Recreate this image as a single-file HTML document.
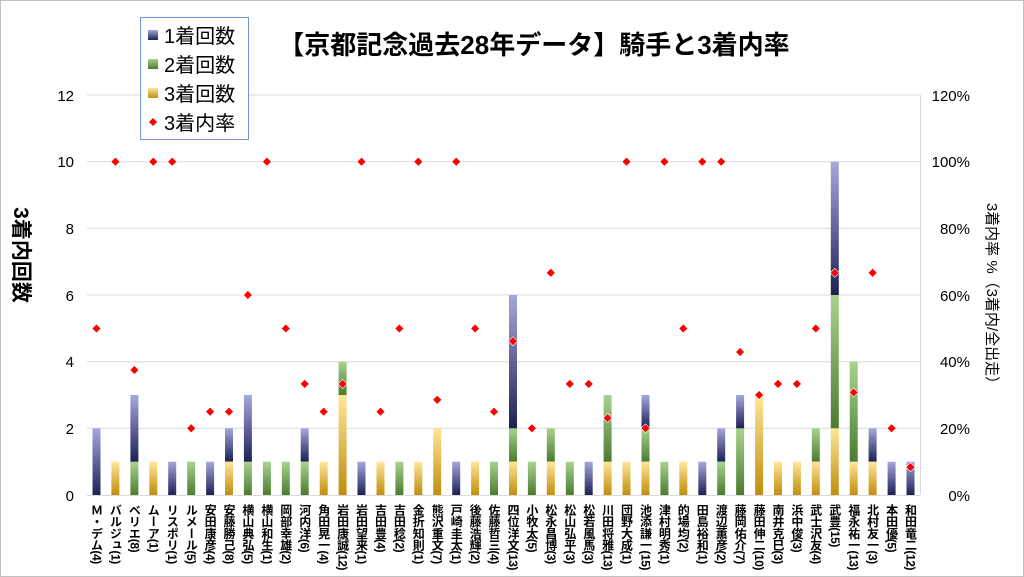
<!DOCTYPE html>
<html><head><meta charset="utf-8"><style>
body{margin:0;background:#fff}
#c{position:relative;width:1024px;height:577px;overflow:hidden;font-family:"Liberation Sans","Noto Sans CJK JP",sans-serif;}
.xl{position:absolute;top:504px;width:14px;writing-mode:vertical-rl;font-size:12px;font-weight:bold;line-height:14px;color:#000;white-space:nowrap;letter-spacing:-0.4px}
</style></head><body><div id="c">
<svg width="1024" height="577" style="position:absolute;left:0;top:0">
<defs>
<linearGradient id="gb" x1="0" y1="0" x2="0" y2="1"><stop offset="0" stop-color="#a4a8da"/><stop offset="1" stop-color="#1c2154"/></linearGradient>
<linearGradient id="gg" x1="0" y1="0" x2="0" y2="1"><stop offset="0" stop-color="#a9d28f"/><stop offset="1" stop-color="#4b7b2f"/></linearGradient>
<linearGradient id="gy" x1="0" y1="0" x2="0" y2="1"><stop offset="0" stop-color="#ffe699"/><stop offset="1" stop-color="#bf8e0c"/></linearGradient>
</defs>
<rect x="0.5" y="0.5" width="1023" height="576" fill="#fff" stroke="#bfbfbf"/>
<g stroke="#d9d9d9" stroke-width="1">
<line x1="87" y1="95" x2="920" y2="95"/><line x1="87" y1="161.7" x2="920" y2="161.7"/><line x1="87" y1="228.3" x2="920" y2="228.3"/><line x1="87" y1="295" x2="920" y2="295"/><line x1="87" y1="361.7" x2="920" y2="361.7"/><line x1="87" y1="428.3" x2="920" y2="428.3"/><line x1="87" y1="495.5" x2="920" y2="495.5"/>
<line x1="920.5" y1="95" x2="920.5" y2="495"/>
</g>
<g font-size="15" fill="#000" text-anchor="end">
<text x="74" y="101">12</text><text x="74" y="167">10</text><text x="74" y="234">8</text><text x="74" y="301">6</text><text x="74" y="367">4</text><text x="74" y="434">2</text><text x="74" y="501">0</text>
</g>
<g font-size="15" fill="#000" text-anchor="end">
<text x="970" y="101">120%</text><text x="970" y="167">100%</text><text x="970" y="234">80%</text><text x="970" y="301">60%</text><text x="970" y="367">40%</text><text x="970" y="434">20%</text><text x="970" y="501">0%</text>
</g>
<text x="534" y="54" font-size="26" font-weight="bold" text-anchor="middle" fill="#000">【京都記念過去28年データ】騎手と3着内率</text>
<text transform="translate(14,255) rotate(90)" font-size="21" font-weight="bold" text-anchor="middle" fill="#000">3着内回数</text>
<text transform="translate(987,297) rotate(90)" font-size="15" text-anchor="middle" fill="#000">3着内率 %（3着内/全出走）</text>
<g>
<rect x="92.5" y="428.3" width="8" height="66.7" fill="url(#gb)"/>
<rect x="111.4" y="461.7" width="8" height="33.3" fill="url(#gy)"/>
<rect x="130.4" y="461.7" width="8" height="33.3" fill="url(#gg)"/><rect x="130.4" y="395" width="8" height="66.7" fill="url(#gb)"/>
<rect x="149.3" y="461.7" width="8" height="33.3" fill="url(#gy)"/>
<rect x="168.2" y="461.7" width="8" height="33.3" fill="url(#gb)"/>
<rect x="187.2" y="461.7" width="8" height="33.3" fill="url(#gg)"/>
<rect x="206.1" y="461.7" width="8" height="33.3" fill="url(#gb)"/>
<rect x="225" y="461.7" width="8" height="33.3" fill="url(#gy)"/><rect x="225" y="428.3" width="8" height="33.3" fill="url(#gb)"/>
<rect x="243.9" y="461.7" width="8" height="33.3" fill="url(#gg)"/><rect x="243.9" y="395" width="8" height="66.7" fill="url(#gb)"/>
<rect x="262.9" y="461.7" width="8" height="33.3" fill="url(#gg)"/>
<rect x="281.8" y="461.7" width="8" height="33.3" fill="url(#gg)"/>
<rect x="300.7" y="461.7" width="8" height="33.3" fill="url(#gg)"/><rect x="300.7" y="428.3" width="8" height="33.3" fill="url(#gb)"/>
<rect x="319.7" y="461.7" width="8" height="33.3" fill="url(#gy)"/>
<rect x="338.6" y="395" width="8" height="100" fill="url(#gy)"/><rect x="338.6" y="361.7" width="8" height="33.3" fill="url(#gg)"/>
<rect x="357.5" y="461.7" width="8" height="33.3" fill="url(#gb)"/>
<rect x="376.5" y="461.7" width="8" height="33.3" fill="url(#gy)"/>
<rect x="395.4" y="461.7" width="8" height="33.3" fill="url(#gg)"/>
<rect x="414.3" y="461.7" width="8" height="33.3" fill="url(#gy)"/>
<rect x="433.2" y="428.3" width="8" height="66.7" fill="url(#gy)"/>
<rect x="452.2" y="461.7" width="8" height="33.3" fill="url(#gb)"/>
<rect x="471.1" y="461.7" width="8" height="33.3" fill="url(#gy)"/>
<rect x="490" y="461.7" width="8" height="33.3" fill="url(#gg)"/>
<rect x="509" y="461.7" width="8" height="33.3" fill="url(#gy)"/><rect x="509" y="428.3" width="8" height="33.3" fill="url(#gg)"/><rect x="509" y="295" width="8" height="133.3" fill="url(#gb)"/>
<rect x="527.9" y="461.7" width="8" height="33.3" fill="url(#gg)"/>
<rect x="546.8" y="461.7" width="8" height="33.3" fill="url(#gy)"/><rect x="546.8" y="428.3" width="8" height="33.3" fill="url(#gg)"/>
<rect x="565.8" y="461.7" width="8" height="33.3" fill="url(#gg)"/>
<rect x="584.7" y="461.7" width="8" height="33.3" fill="url(#gb)"/>
<rect x="603.6" y="461.7" width="8" height="33.3" fill="url(#gy)"/><rect x="603.6" y="395" width="8" height="66.7" fill="url(#gg)"/>
<rect x="622.5" y="461.7" width="8" height="33.3" fill="url(#gy)"/>
<rect x="641.5" y="461.7" width="8" height="33.3" fill="url(#gy)"/><rect x="641.5" y="428.3" width="8" height="33.3" fill="url(#gg)"/><rect x="641.5" y="395" width="8" height="33.3" fill="url(#gb)"/>
<rect x="660.4" y="461.7" width="8" height="33.3" fill="url(#gg)"/>
<rect x="679.3" y="461.7" width="8" height="33.3" fill="url(#gy)"/>
<rect x="698.3" y="461.7" width="8" height="33.3" fill="url(#gb)"/>
<rect x="717.2" y="461.7" width="8" height="33.3" fill="url(#gg)"/><rect x="717.2" y="428.3" width="8" height="33.3" fill="url(#gb)"/>
<rect x="736.1" y="428.3" width="8" height="66.7" fill="url(#gg)"/><rect x="736.1" y="395" width="8" height="33.3" fill="url(#gb)"/>
<rect x="755.1" y="395" width="8" height="100" fill="url(#gy)"/>
<rect x="774" y="461.7" width="8" height="33.3" fill="url(#gy)"/>
<rect x="792.9" y="461.7" width="8" height="33.3" fill="url(#gy)"/>
<rect x="811.8" y="461.7" width="8" height="33.3" fill="url(#gy)"/><rect x="811.8" y="428.3" width="8" height="33.3" fill="url(#gg)"/>
<rect x="830.8" y="428.3" width="8" height="66.7" fill="url(#gy)"/><rect x="830.8" y="295" width="8" height="133.3" fill="url(#gg)"/><rect x="830.8" y="161.7" width="8" height="133.3" fill="url(#gb)"/>
<rect x="849.7" y="461.7" width="8" height="33.3" fill="url(#gy)"/><rect x="849.7" y="361.7" width="8" height="100" fill="url(#gg)"/>
<rect x="868.6" y="461.7" width="8" height="33.3" fill="url(#gy)"/><rect x="868.6" y="428.3" width="8" height="33.3" fill="url(#gb)"/>
<rect x="887.6" y="461.7" width="8" height="33.3" fill="url(#gb)"/>
<rect x="906.5" y="461.7" width="8" height="33.3" fill="url(#gb)"/>
</g>
<g fill="#ff0000" stroke="#fff" stroke-width="0.6">
<path d="M96.5 324l4.5 4.5-4.5 4.5-4.5-4.5z"/>
<path d="M115.4 157.2l4.5 4.5-4.5 4.5-4.5-4.5z"/>
<path d="M134.4 365.5l4.5 4.5-4.5 4.5-4.5-4.5z"/>
<path d="M153.3 157.2l4.5 4.5-4.5 4.5-4.5-4.5z"/>
<path d="M172.2 157.2l4.5 4.5-4.5 4.5-4.5-4.5z"/>
<path d="M191.2 423.8l4.5 4.5-4.5 4.5-4.5-4.5z"/>
<path d="M210.1 407.2l4.5 4.5-4.5 4.5-4.5-4.5z"/>
<path d="M229 407.2l4.5 4.5-4.5 4.5-4.5-4.5z"/>
<path d="M247.9 290.5l4.5 4.5-4.5 4.5-4.5-4.5z"/>
<path d="M266.9 157.2l4.5 4.5-4.5 4.5-4.5-4.5z"/>
<path d="M285.8 324l4.5 4.5-4.5 4.5-4.5-4.5z"/>
<path d="M304.7 379.4l4.5 4.5-4.5 4.5-4.5-4.5z"/>
<path d="M323.7 407.2l4.5 4.5-4.5 4.5-4.5-4.5z"/>
<path d="M342.6 379.4l4.5 4.5-4.5 4.5-4.5-4.5z"/>
<path d="M361.5 157.2l4.5 4.5-4.5 4.5-4.5-4.5z"/>
<path d="M380.5 407.2l4.5 4.5-4.5 4.5-4.5-4.5z"/>
<path d="M399.4 324l4.5 4.5-4.5 4.5-4.5-4.5z"/>
<path d="M418.3 157.2l4.5 4.5-4.5 4.5-4.5-4.5z"/>
<path d="M437.2 395.3l4.5 4.5-4.5 4.5-4.5-4.5z"/>
<path d="M456.2 157.2l4.5 4.5-4.5 4.5-4.5-4.5z"/>
<path d="M475.1 324l4.5 4.5-4.5 4.5-4.5-4.5z"/>
<path d="M494 407.2l4.5 4.5-4.5 4.5-4.5-4.5z"/>
<path d="M513 336.7l4.5 4.5-4.5 4.5-4.5-4.5z"/>
<path d="M531.9 423.8l4.5 4.5-4.5 4.5-4.5-4.5z"/>
<path d="M550.8 268.3l4.5 4.5-4.5 4.5-4.5-4.5z"/>
<path d="M569.8 379.4l4.5 4.5-4.5 4.5-4.5-4.5z"/>
<path d="M588.7 379.4l4.5 4.5-4.5 4.5-4.5-4.5z"/>
<path d="M607.6 413.5l4.5 4.5-4.5 4.5-4.5-4.5z"/>
<path d="M626.5 157.2l4.5 4.5-4.5 4.5-4.5-4.5z"/>
<path d="M645.5 423.8l4.5 4.5-4.5 4.5-4.5-4.5z"/>
<path d="M664.4 157.2l4.5 4.5-4.5 4.5-4.5-4.5z"/>
<path d="M683.3 324l4.5 4.5-4.5 4.5-4.5-4.5z"/>
<path d="M702.3 157.2l4.5 4.5-4.5 4.5-4.5-4.5z"/>
<path d="M721.2 157.2l4.5 4.5-4.5 4.5-4.5-4.5z"/>
<path d="M740.1 347.5l4.5 4.5-4.5 4.5-4.5-4.5z"/>
<path d="M759.1 390.5l4.5 4.5-4.5 4.5-4.5-4.5z"/>
<path d="M778 379.4l4.5 4.5-4.5 4.5-4.5-4.5z"/>
<path d="M796.9 379.4l4.5 4.5-4.5 4.5-4.5-4.5z"/>
<path d="M815.8 324l4.5 4.5-4.5 4.5-4.5-4.5z"/>
<path d="M834.8 268.3l4.5 4.5-4.5 4.5-4.5-4.5z"/>
<path d="M853.7 388l4.5 4.5-4.5 4.5-4.5-4.5z"/>
<path d="M872.6 268.3l4.5 4.5-4.5 4.5-4.5-4.5z"/>
<path d="M891.6 423.8l4.5 4.5-4.5 4.5-4.5-4.5z"/>
<path d="M910.5 462.7l4.5 4.5-4.5 4.5-4.5-4.5z"/>
</g>
<rect x="140.5" y="17.5" width="108" height="122" fill="#fff" stroke="#6f97d8" stroke-width="1"/>
<rect x="148" y="30" width="10" height="10" fill="url(#gb)"/>
<rect x="148" y="59" width="10" height="10" fill="url(#gg)"/>
<rect x="148" y="88" width="10" height="10" fill="url(#gy)"/>
<path d="M153 118l4 4-4 4-4-4z" fill="#f00"/>
<g font-size="20" fill="#000">
<text x="164" y="43">1着回数</text><text x="164" y="72">2着回数</text><text x="164" y="101">3着回数</text><text x="164" y="130">3着内率</text>
</g>
</svg>
<div class="xl" style="left:89.5px">Ｍ・デム(4)</div>
<div class="xl" style="left:108.4px">バルジュ(1)</div>
<div class="xl" style="left:127.4px">ベリエ(8)</div>
<div class="xl" style="left:146.3px">ムーア(1)</div>
<div class="xl" style="left:165.2px">リスポリ(1)</div>
<div class="xl" style="left:184.2px">ルメール(5)</div>
<div class="xl" style="left:203.1px">安田康彦(4)</div>
<div class="xl" style="left:222px">安藤勝己(8)</div>
<div class="xl" style="left:240.9px">横山典弘(5)</div>
<div class="xl" style="left:259.9px">横山和生(1)</div>
<div class="xl" style="left:278.8px">岡部幸雄(2)</div>
<div class="xl" style="left:297.7px">河内洋(6)</div>
<div class="xl" style="left:316.7px">角田晃一(4)</div>
<div class="xl" style="left:335.6px">岩田康誠(12)</div>
<div class="xl" style="left:354.5px">岩田望来(1)</div>
<div class="xl" style="left:373.5px">吉田豊(4)</div>
<div class="xl" style="left:392.4px">吉田稔(2)</div>
<div class="xl" style="left:411.3px">金折知則(1)</div>
<div class="xl" style="left:430.2px">熊沢重文(7)</div>
<div class="xl" style="left:449.2px">戸崎圭太(1)</div>
<div class="xl" style="left:468.1px">後藤浩輝(2)</div>
<div class="xl" style="left:487px">佐藤哲三(4)</div>
<div class="xl" style="left:506px">四位洋文(13)</div>
<div class="xl" style="left:524.9px">小牧太(5)</div>
<div class="xl" style="left:543.8px">松永昌博(3)</div>
<div class="xl" style="left:562.8px">松山弘平(3)</div>
<div class="xl" style="left:581.7px">松若風馬(3)</div>
<div class="xl" style="left:600.6px">川田将雅(13)</div>
<div class="xl" style="left:619.5px">団野大成(1)</div>
<div class="xl" style="left:638.5px">池添謙一(15)</div>
<div class="xl" style="left:657.4px">津村明秀(1)</div>
<div class="xl" style="left:676.3px">的場均(2)</div>
<div class="xl" style="left:695.3px">田島裕和(1)</div>
<div class="xl" style="left:714.2px">渡辺薫彦(2)</div>
<div class="xl" style="left:733.1px">藤岡佑介(7)</div>
<div class="xl" style="left:752.1px">藤田伸二(10)</div>
<div class="xl" style="left:771px">南井克巳(3)</div>
<div class="xl" style="left:789.9px">浜中俊(3)</div>
<div class="xl" style="left:808.8px">武士沢友(4)</div>
<div class="xl" style="left:827.8px">武豊(15)</div>
<div class="xl" style="left:846.7px">福永祐一(13)</div>
<div class="xl" style="left:865.6px">北村友一(3)</div>
<div class="xl" style="left:884.6px">本田優(5)</div>
<div class="xl" style="left:903.5px">和田竜二(12)</div>
</div></body></html>
